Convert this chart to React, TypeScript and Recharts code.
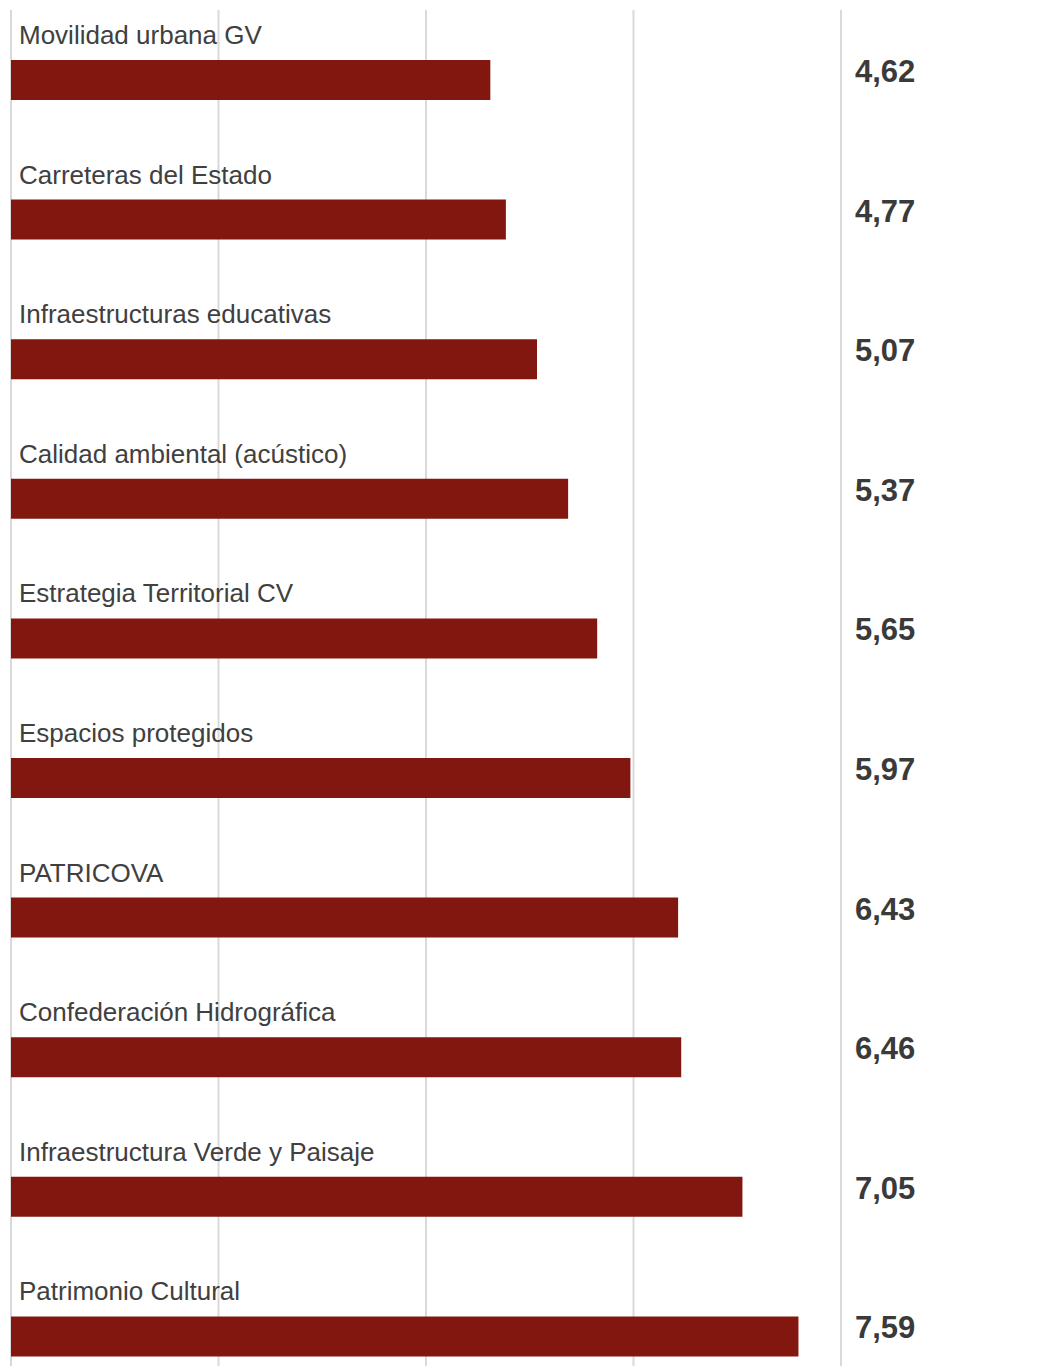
import { BarChart, Bar, XAxis, YAxis, CartesianGrid, LabelList } from 'recharts';

const categories = [
  'Movilidad urbana GV',
  'Carreteras del Estado',
  'Infraestructuras educativas',
  'Calidad ambiental  (acústico)',
  'Estrategia Territorial CV',
  'Espacios protegidos',
  'PATRICOVA',
  'Confederación Hidrográfica',
  'Infraestructura Verde y Paisaje',
  'Patrimonio Cultural',
];

const scores = [4.62, 4.77, 5.07, 5.37, 5.65, 5.97, 6.43, 6.46, 7.05, 7.59];

const xTicks = [0, 2, 4, 6, 8];

const data = categories.map((name, i) => ({ name, value: scores[i] }));

const WIDTH = 1021;
const HEIGHT = 1400;
const MARGIN = { top: 2, right: 188, bottom: 2, left: 3 };
const BAR_COLOR = '#821710';
const FONT = '"Liberation Sans", Arial, sans-serif';

const fmt = (v: number) => v.toFixed(2).replace('.', ',');

function CategoryLabel(props: any) {
  const { x, y, value } = props;
  return (
    <text x={x + 8} y={y - 16} fill="#404040" fontSize={26} fontFamily={FONT}>
      {value}
    </text>
  );
}

function ValueLabel(props: any) {
  const { y, height, value } = props;
  return (
    <text
      x={WIDTH - MARGIN.right + 14}
      y={y + height / 2 + 2}
      fill="#3a3a3a"
      fontSize={31}
      fontWeight="bold"
      fontFamily={FONT}
    >
      {fmt(value)}
    </text>
  );
}

export default function App() {
  return (
    <div style={{ width: WIDTH, height: HEIGHT, background: '#fff' }}>
      <BarChart width={WIDTH} height={HEIGHT} data={data} layout="vertical" margin={MARGIN}>
        <CartesianGrid horizontal={false} stroke="#d9d9d9" strokeWidth={2} />
        <XAxis type="number" domain={[0, 8]} ticks={xTicks} hide />
        <YAxis type="category" dataKey="name" hide />
        <Bar dataKey="value" fill={BAR_COLOR} barSize={40} isAnimationActive={false}>
          <LabelList dataKey="name" content={CategoryLabel} />
          <LabelList dataKey="value" content={ValueLabel} />
        </Bar>
      </BarChart>
    </div>
  );
}
